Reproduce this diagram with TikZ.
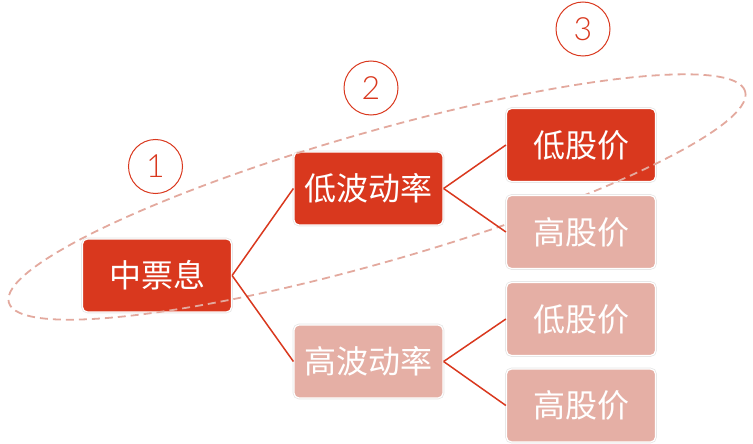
\documentclass[tikz,border=0pt]{standalone}
\usepackage{fontspec}
\newfontfamily\cjk{Noto Sans CJK SC}
\newfontfamily\numfont{Lato Light}
\definecolor{darkred}{HTML}{D9381E}
\definecolor{lightred}{HTML}{E5AFA5}
\definecolor{dashcol}{HTML}{E3A99E}
\tikzset{
  box/.style={rectangle, rounded corners=5pt, minimum width=149pt, minimum height=73pt,
    preaction={draw=black!10, line width=2.6pt}, draw=white, line width=1.2pt,
    text=white, font=\cjk\fontsize{32}{38}\selectfont, inner sep=0pt},
  darkbox/.style={box, fill=darkred},
  lightbox/.style={box, fill=lightred},
  conn/.style={draw=darkred, line width=1.5pt},
  numcirc/.style={circle, draw=darkred, line width=1pt, minimum size=54pt, inner sep=0pt,
    text=darkred, font=\numfont\fontsize{32}{38}\selectfont},
  dashring/.style={draw=dashcol, line width=1.8pt, dash pattern=on 8pt off 5pt}
}
\begin{document}
\begin{tikzpicture}[x=1pt,y=-1pt]
\useasboundingbox (0,0) rectangle (753,444);
\node[darkbox] (a) at (157,275.5) {中票息};
\node[darkbox] (b1) at (368.5,188.5) {低波动率};
\node[lightbox] (b2) at (368.5,361.5) {高波动率};
\node[darkbox] (c1) at (581,145) {低股价};
\node[lightbox] (c3) at (581,319) {低股价};
\node[lightbox] (c4) at (581,405.5) {高股价};
\draw[dashring, shift={(377,197)}, rotate=16] (0,0) ellipse [x radius=383pt, y radius=65pt];
\node[lightbox] (c2) at (581,232) {高股价};
\draw[conn] (a.east) -- (b1.west);
\draw[conn] (a.east) -- (b2.west);
\draw[conn] (b1.east) -- (c1.west);
\draw[conn] (b1.east) -- (c2.west);
\draw[conn] (b2.east) -- (c3.west);
\draw[conn] (b2.east) -- (c4.west);
\node[numcirc] (n1) at (155.5,166.5) {1};
\node[numcirc] (n2) at (371,88) {2};
\node[numcirc] (n3) at (583,29) {3};
\end{tikzpicture}
\end{document}
